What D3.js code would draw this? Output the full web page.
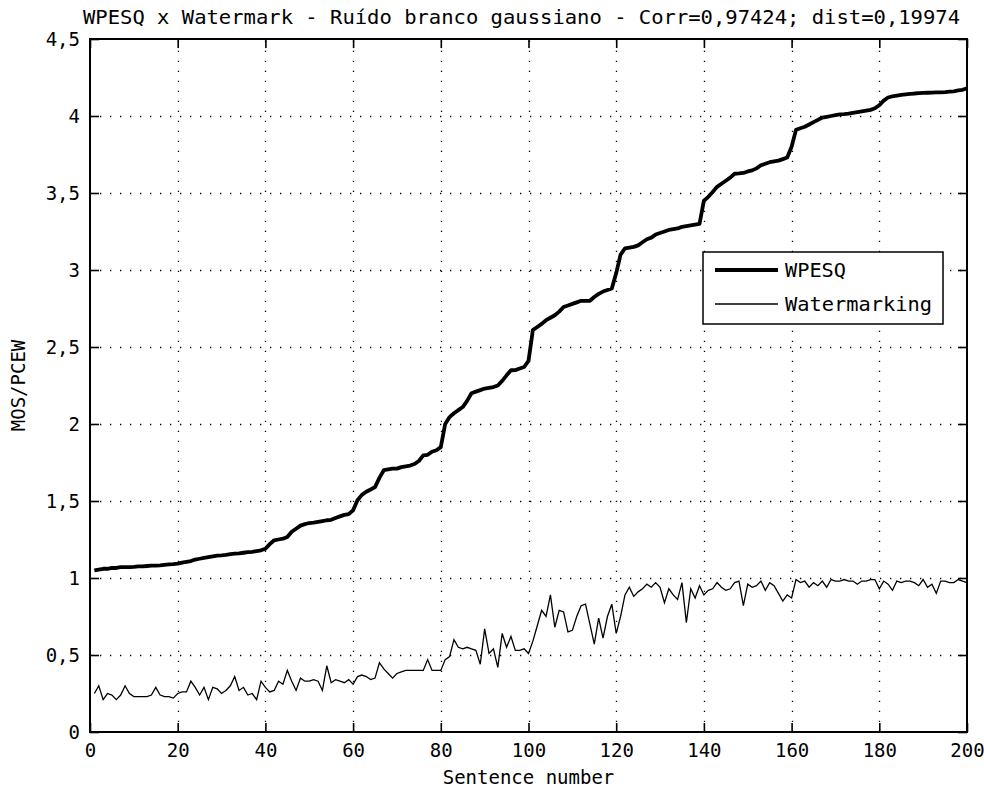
<!DOCTYPE html>
<html>
<head>
<meta charset="utf-8">
<script src="https://cdn.jsdelivr.net/npm/d3@7"></script>
<style>
  html, body { margin: 0; padding: 0; background: #fff; }
  svg { display: block; }
  text { font-family: "DejaVu Sans Mono", "Liberation Mono", monospace; fill: #000; }
</style>
</head>
<body>
<svg id="chart" width="984" height="794"></svg>
<script>
// ---- data ----
const titleText = "WPESQ x Watermark - Ruído branco gaussiano - Corr=0,97424; dist=0,19974";
const xLabel = "Sentence number";
const yLabel = "MOS/PCEW";
const seriesNames = ["WPESQ", "Watermarking"];
const xTicks = [0, 20, 40, 60, 80, 100, 120, 140, 160, 180, 200];
const yTicks = [0, 0.5, 1, 1.5, 2, 2.5, 3, 3.5, 4, 4.5];
const yTickLabels = ["0", "0,5", "1", "1,5", "2", "2,5", "3", "3,5", "4", "4,5"];

const wpesq = [
  1.05,1.055,1.06,1.06,1.065,1.065,1.07,1.07,1.07,1.072,
  1.075,1.075,1.078,1.08,1.08,1.082,1.085,1.088,1.09,1.093,
  1.10,1.105,1.11,1.12,1.125,1.13,1.135,1.14,1.145,1.147,
  1.15,1.155,1.158,1.16,1.164,1.168,1.17,1.175,1.18,1.19,
  1.22,1.245,1.25,1.255,1.266,1.30,1.32,1.34,1.35,1.357,
  1.36,1.365,1.37,1.375,1.378,1.39,1.40,1.41,1.415,1.44,
  1.505,1.54,1.56,1.575,1.59,1.65,1.70,1.705,1.71,1.71,
  1.72,1.725,1.73,1.74,1.76,1.796,1.80,1.82,1.83,1.85,
  2.0,2.045,2.07,2.09,2.11,2.15,2.20,2.21,2.22,2.23,
  2.235,2.24,2.25,2.28,2.316,2.349,2.35,2.36,2.37,2.41,
  2.61,2.63,2.65,2.674,2.69,2.706,2.73,2.76,2.77,2.78,
  2.79,2.80,2.80,2.80,2.825,2.845,2.86,2.87,2.88,2.98,
  3.10,3.14,3.145,3.15,3.16,3.18,3.20,3.21,3.23,3.24,
  3.25,3.26,3.265,3.27,3.28,3.285,3.29,3.295,3.30,3.45,
  3.475,3.507,3.54,3.56,3.58,3.60,3.625,3.627,3.63,3.64,
  3.647,3.66,3.68,3.69,3.70,3.705,3.71,3.72,3.73,3.80,
  3.91,3.92,3.93,3.945,3.96,3.975,3.99,3.995,4.0,4.005,
  4.01,4.012,4.015,4.02,4.025,4.03,4.035,4.04,4.05,4.07,
  4.10,4.12,4.128,4.133,4.137,4.14,4.143,4.146,4.148,4.15,
  4.151,4.152,4.153,4.154,4.155,4.158,4.16,4.166,4.17,4.18
];

const watermarking = [
  0.25,0.30,0.21,0.25,0.24,0.21,0.24,0.30,0.25,0.23,
  0.23,0.23,0.23,0.24,0.29,0.24,0.23,0.23,0.22,0.25,
  0.26,0.26,0.33,0.29,0.24,0.29,0.21,0.29,0.28,0.25,
  0.27,0.30,0.36,0.27,0.29,0.24,0.25,0.21,0.33,0.29,
  0.26,0.27,0.33,0.31,0.40,0.33,0.27,0.35,0.33,0.33,
  0.34,0.33,0.27,0.43,0.32,0.34,0.33,0.32,0.34,0.31,
  0.36,0.37,0.36,0.34,0.35,0.45,0.41,0.38,0.35,0.38,
  0.39,0.40,0.40,0.40,0.40,0.40,0.47,0.40,0.40,0.40,
  0.47,0.49,0.60,0.55,0.54,0.55,0.54,0.53,0.44,0.67,
  0.51,0.54,0.42,0.64,0.55,0.62,0.53,0.53,0.54,0.51,
  0.59,0.69,0.79,0.75,0.89,0.68,0.79,0.78,0.65,0.66,
  0.75,0.82,0.83,0.70,0.57,0.74,0.61,0.75,0.83,0.64,
  0.75,0.89,0.94,0.88,0.91,0.93,0.96,0.94,0.97,0.94,
  0.84,0.93,0.89,0.86,0.97,0.71,0.93,0.87,0.95,0.89,
  0.92,0.93,0.97,0.94,0.92,0.93,0.97,0.98,0.82,0.96,
  0.94,0.95,0.98,0.92,0.97,0.95,0.90,0.85,0.89,0.87,
  0.99,0.97,0.98,0.94,0.97,0.95,0.98,0.94,0.99,0.98,
  0.98,0.99,0.98,0.98,0.96,0.98,0.98,0.99,0.99,0.93,
  0.98,0.96,0.92,0.98,0.97,0.98,0.98,0.97,0.95,0.99,
  0.94,0.96,0.90,0.98,0.98,0.97,0.97,0.99,0.98,0.97
];

// ---- layout ----
const mLeft = 90, mRight = 967, mTop = 39, mBottom = 732;
const svg = d3.select("#chart");

const x = d3.scaleLinear().domain([0, 200]).range([mLeft, mRight]);
const y = d3.scaleLinear().domain([0, 4.5]).range([mBottom, mTop]);

// grid
const grid = svg.append("g").attr("stroke", "#000").attr("stroke-width", 1.3)
  .attr("stroke-dasharray", "1.3,8.7").attr("fill", "none");
xTicks.slice(1, -1).forEach(t => {
  grid.append("line").attr("x1", Math.round(x(t)) + 0.5).attr("x2", Math.round(x(t)) + 0.5)
    .attr("y1", mBottom).attr("y2", mTop);
});
yTicks.slice(1, -1).forEach(t => {
  grid.append("line").attr("y1", Math.round(y(t)) + 0.5).attr("y2", Math.round(y(t)) + 0.5)
    .attr("x1", mLeft).attr("x2", mRight);
});

// axes with inward ticks on all four sides
const tickLen = 9;
const xAxisB = d3.axisBottom(x).tickValues(xTicks).tickSizeInner(-tickLen).tickSizeOuter(0).tickPadding(12);
const xAxisT = d3.axisTop(x).tickValues(xTicks).tickSizeInner(-tickLen).tickSizeOuter(0).tickFormat("");
const yAxisL = d3.axisLeft(y).tickValues(yTicks).tickSizeInner(-tickLen).tickSizeOuter(0).tickPadding(10)
  .tickFormat((d, i) => yTickLabels[i]);
const yAxisR = d3.axisRight(y).tickValues(yTicks).tickSizeInner(-tickLen).tickSizeOuter(0).tickFormat("");

function styleAxis(g) {
  g.select(".domain").remove();
  g.selectAll(".tick line").attr("stroke", "#000").attr("stroke-width", 1.6);
  g.selectAll(".tick text").attr("font-size", 19).attr("font-family", "\"DejaVu Sans Mono\", monospace").attr("fill", "#000");
}
svg.append("g").attr("transform", `translate(0,${mBottom})`).call(xAxisB).call(styleAxis);
svg.append("g").attr("transform", `translate(0,${mTop})`).call(xAxisT).call(styleAxis);
svg.append("g").attr("transform", `translate(${mLeft},0)`).call(yAxisL).call(styleAxis);
svg.append("g").attr("transform", `translate(${mRight},0)`).call(yAxisR).call(styleAxis);

// frame
svg.append("rect").attr("x", mLeft).attr("y", mTop).attr("width", mRight - mLeft).attr("height", mBottom - mTop)
  .attr("fill", "none").attr("stroke", "#000").attr("stroke-width", 2);

// lines
const idx = d3.range(1, 201);
const line = d3.line().x((d, i) => x(idx[i])).y(d => y(d));
svg.append("path").datum(watermarking).attr("d", line).attr("fill", "none")
  .attr("stroke", "#000").attr("stroke-width", 1.3).attr("stroke-linejoin", "miter");
svg.append("path").datum(wpesq).attr("d", line).attr("fill", "none")
  .attr("stroke", "#000").attr("stroke-width", 3.8).attr("stroke-linejoin", "round");

// legend
const lg = svg.append("g");
lg.append("rect").attr("x", 703).attr("y", 252).attr("width", 240).attr("height", 72)
  .attr("fill", "#fff").attr("stroke", "#000").attr("stroke-width", 1.5);
const legendWidths = [3.8, 1.3];
const legendY = [270, 304];
seriesNames.forEach((n, i) => {
  lg.append("line").attr("x1", 715).attr("x2", 778).attr("y1", legendY[i]).attr("y2", legendY[i])
    .attr("stroke", "#000").attr("stroke-width", legendWidths[i]);
  lg.append("text").attr("x", 785).attr("y", legendY[i]).attr("dy", "0.35em")
    .attr("font-size", 19).attr("textLength", 147).attr("lengthAdjust", "spacingAndGlyphs")
    .attr("textLength", i === 0 ? 61 : 147).text(n);
});

// title and labels
svg.append("text").attr("x", 521.5).attr("y", 17).attr("dy", "0.35em")
  .attr("text-anchor", "middle").attr("font-size", 19)
  .attr("textLength", 877).attr("lengthAdjust", "spacingAndGlyphs").text(titleText);
svg.append("text").attr("x", (mLeft + mRight) / 2).attr("y", 777).attr("dy", "0.35em")
  .attr("text-anchor", "middle").attr("font-size", 19).text(xLabel);
svg.append("text").attr("transform", `translate(18,${(mTop + mBottom) / 2}) rotate(-90)`)
  .attr("dy", "0.35em").attr("text-anchor", "middle").attr("font-size", 19).text(yLabel);
</script>
</body>
</html>
